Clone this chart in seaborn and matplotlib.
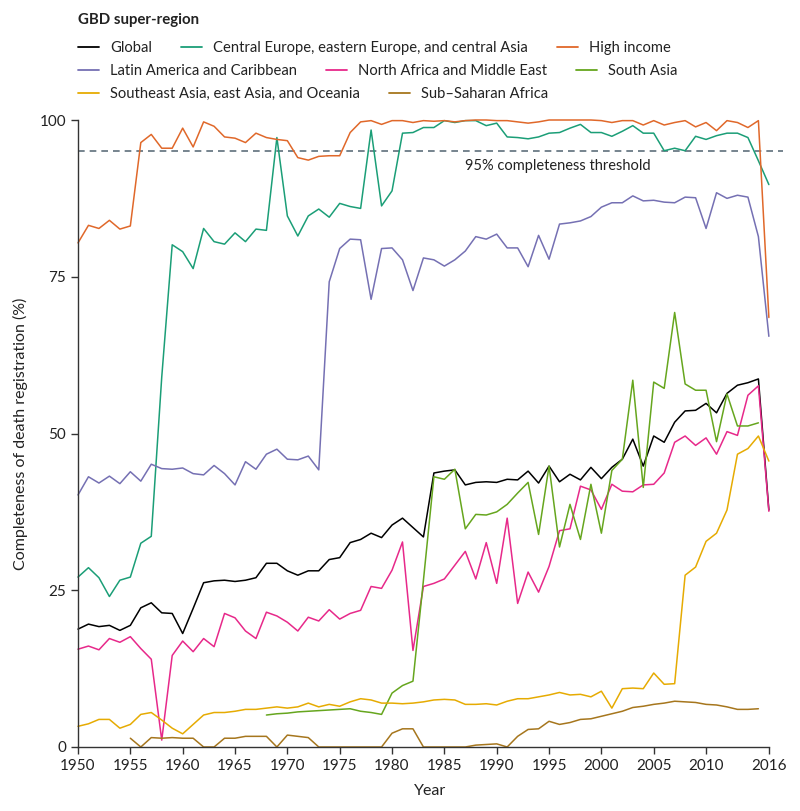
import matplotlib
matplotlib.use("Agg")
import matplotlib.pyplot as plt
from matplotlib.lines import Line2D
import numpy as np
import pandas as pd
import seaborn as sns

# values (completeness, %)
years = list(range(1950, 2017))

global_vals = [18.8, 19.6, 19.2, 19.4, 18.6, 19.4, 22.2, 23.0, 21.4, 21.3,
               18.1, 22.1, 26.2, 26.5, 26.6, 26.4, 26.6, 27.0, 29.3, 29.3,
               28.1, 27.4, 28.1, 28.1, 29.9, 30.2, 32.6, 33.1, 34.1, 33.4,
               35.4, 36.5, 35.0, 33.5, 43.7, 44.0, 44.2, 41.8, 42.2, 42.3,
               42.2, 42.7, 42.6, 44.0, 42.1, 44.8, 42.3, 43.5, 42.6, 44.6,
               42.8, 44.6, 45.9, 49.1, 44.8, 49.6, 48.6, 51.8, 53.6, 53.7,
               54.8, 53.3, 56.4, 57.7, 58.1, 58.7, 37.8]

cee_vals = [27.1, 28.6, 27.0, 24.0, 26.6, 27.1, 32.5, 33.6, 59.0, 80.1,
            79.0, 76.3, 82.7, 80.6, 80.2, 82.0, 80.6, 82.6, 82.4, 97.2,
            84.7, 81.5, 84.7, 85.8, 84.5, 86.7, 86.2, 85.9, 98.4, 86.3,
            88.7, 97.9, 98.0, 98.8, 98.8, 99.9, 99.6, 99.9, 99.9, 99.1,
            99.5, 97.3, 97.2, 97.0, 97.3, 97.9, 98.0, 98.7, 99.3, 98.0,
            98.0, 97.4, 98.2, 99.1, 97.9, 97.9, 95.1, 95.5, 95.1, 97.4,
            96.9, 97.5, 97.9, 97.9, 97.2, 93.5, 89.7]

high_income_vals = [80.4, 83.2, 82.7, 84.0, 82.6, 83.1, 96.4, 97.7, 95.5, 95.5,
                    98.7, 95.7, 99.7, 99.0, 97.3, 97.1, 96.4, 97.9, 97.2, 96.9,
                    96.7, 94.0, 93.6, 94.2, 94.3, 94.3, 98.0, 99.7, 99.9, 99.3,
                    99.9, 99.9, 99.6, 99.9, 99.8, 99.9, 99.7, 99.9, 100.0, 100.0,
                    99.9, 99.9, 99.7, 99.5, 99.7, 100.0, 100.0, 100.0, 100.0, 100.0,
                    99.9, 99.6, 99.9, 99.9, 99.2, 99.9, 99.2, 99.6, 99.9, 98.9,
                    99.6, 98.3, 99.9, 99.6, 98.8, 99.9, 68.5]

latam_vals = [40.2, 43.1, 42.1, 43.2, 42.0, 43.9, 42.4, 45.1, 44.4, 44.3,
              44.5, 43.6, 43.4, 44.9, 43.6, 41.8, 45.5, 44.3, 46.7, 47.5,
              45.9, 45.8, 46.4, 44.2, 74.2, 79.5, 81.0, 80.9, 71.4, 79.5,
              79.6, 77.7, 72.8, 78.0, 77.7, 76.7, 77.7, 79.1, 81.4, 81.0,
              81.8, 79.6, 79.6, 76.6, 81.6, 77.8, 83.4, 83.6, 83.9, 84.6,
              86.1, 86.8, 86.8, 87.9, 87.1, 87.2, 86.9, 86.8, 87.7, 87.6,
              82.7, 88.4, 87.5, 88.0, 87.7, 81.4, 65.5]

name_vals = [15.6, 16.1, 15.5, 17.3, 16.7, 17.6, 15.7, 14.0, 1.1, 14.6,
             16.9, 15.2, 17.3, 16.0, 21.3, 20.6, 18.5, 17.3, 21.5, 20.9,
             19.9, 18.5, 20.7, 20.1, 21.9, 20.4, 21.3, 21.8, 25.6, 25.3,
             28.2, 32.7, 15.4, 25.6, 26.1, 26.8, 29.0, 31.2, 26.8, 32.6,
             26.1, 36.5, 22.9, 27.9, 24.7, 28.8, 34.5, 34.8, 41.6, 41.0,
             37.9, 41.9, 40.8, 40.7, 41.8, 41.9, 43.7, 48.6, 49.6, 48.1,
             49.3, 46.7, 50.3, 49.7, 56.1, 57.6, 37.6]

south_asia_years = list(range(1968, 2016))
south_asia_vals = [5.1, 5.3, 5.4, 5.6, 5.7, 5.8, 5.9, 6.0, 6.1, 5.7, 5.5, 5.2,
                   8.6, 9.8, 10.5, 26.6, 43.1, 42.7, 44.3, 34.8, 37.1, 37.0,
                   37.5, 38.7, 40.5, 42.2, 33.9, 44.8, 31.9, 38.7, 33.1, 41.9,
                   34.1, 44.1, 45.9, 58.5, 41.4, 58.2, 57.2, 69.3, 57.9, 56.9,
                   56.9, 48.7, 56.3, 51.2, 51.2, 51.7]

se_asia_vals = [3.3, 3.7, 4.4, 4.4, 3.0, 3.6, 5.2, 5.5, 4.3, 3.0,
                2.1, 3.6, 5.1, 5.5, 5.5, 5.7, 6.0, 6.0, 6.2, 6.4,
                6.2, 6.4, 7.0, 6.4, 6.8, 6.5, 7.2, 7.7, 7.5, 7.0,
                7.0, 6.9, 7.0, 7.2, 7.5, 7.6, 7.5, 6.8, 6.8, 6.9,
                6.7, 7.3, 7.7, 7.7, 8.0, 8.3, 8.7, 8.3, 8.4, 8.0,
                8.9, 6.2, 9.3, 9.4, 9.3, 11.8, 10.0, 10.1, 27.4, 28.7,
                32.8, 34.1, 37.8, 46.7, 47.6, 49.6, 45.6]

ssa_years = list(range(1955, 2016))
ssa_vals = [1.4, 0.0, 1.5, 1.4, 1.5,
            1.4, 1.4, 0.0, 0.0, 1.4, 1.4, 1.7, 1.7, 1.7, 0.0,
            1.9, 1.7, 1.5, 0.0, 0.0, 0.0, 0.0, 0.0, 0.0, 0.0,
            2.2, 2.9, 2.9, 0.0, 0.0, 0.0, 0.0, 0.0, 0.3, 0.4,
            0.5, 0.0, 1.7, 2.8, 2.9, 4.1, 3.6, 3.9, 4.4, 4.5,
            4.9, 5.3, 5.7, 6.3, 6.5, 6.8, 7.0, 7.3, 7.2, 7.1,
            6.8, 6.7, 6.4, 6.0, 6.0, 6.1]

regions = ["Global",
           "Central Europe, eastern Europe, and central Asia",
           "High income",
           "Latin America and Caribbean",
           "North Africa and Middle East",
           "South Asia",
           "Southeast Asia, east Asia, and Oceania",
           "Sub\u2013Saharan Africa"]
colors = ["#000000", "#1b9e77", "#e0682a", "#7570b3",
          "#e7298a", "#66a61e", "#e6ab02", "#a6761d"]

series = [(years, global_vals), (years, cee_vals), (years, high_income_vals),
          (years, latam_vals), (years, name_vals),
          (south_asia_years, south_asia_vals), (years, se_asia_vals),
          (ssa_years, ssa_vals)]

frames = []
for name, (yrs, vals) in zip(regions, series):
    frames.append(pd.DataFrame({"year": yrs, "value": vals, "region": name}))
df = pd.concat(frames, ignore_index=True)

sns.set_style("ticks")
plt.rcParams["font.family"] = ["Lato", "DejaVu Sans"]
text_color = "#222222"

fig = plt.figure(figsize=(8, 8.11), dpi=100)
ax = fig.add_axes([78 / 800, 1 - 747 / 811, 705 / 800, 627 / 811])

sns.lineplot(data=df, x="year", y="value", hue="region", hue_order=regions,
             palette=dict(zip(regions, colors)), linewidth=1.1,
             errorbar=None, legend=False, ax=ax)
for line in ax.lines:
    line.set_clip_on(False)

# 95% threshold
ax.axhline(95, color="#5f6f7c", linewidth=1.2, linestyle=(0, (4, 3)), zorder=0)
ax.text(1987, 92.6, "95% completeness threshold", fontsize=10.5,
        color=text_color, ha="left", va="center")

ax.set_xlim(1950, 2017.35)
ax.set_ylim(0, 100)
ax.set_xticks(list(range(1950, 2015, 5)) + [2016])
ax.set_yticks([0, 25, 50, 75, 100])
ax.tick_params(axis="both", direction="out", length=5, width=1,
               color="#333333", labelsize=11, labelcolor=text_color)
for s in ["top", "right"]:
    ax.spines[s].set_visible(False)
ax.spines["left"].set_bounds(0, 100)
ax.spines["bottom"].set_bounds(1950, 2016)
for s in ["left", "bottom"]:
    ax.spines[s].set_color("#333333")
    ax.spines[s].set_linewidth(1)

ax.set_xlabel("Year", fontsize=11.5, color=text_color, labelpad=8)
ax.set_ylabel("Completeness of death registration (%)", fontsize=11.5,
              color=text_color, labelpad=8)

# legend, one flowing row at a time
fig.text(78 / 800, 1 - 20 / 811, "GBD super-region", fontsize=10.8,
         fontweight="bold", color=text_color, ha="left", va="center")
rows = [[0, 1, 2], [3, 4, 5], [6, 7]]
row_y = [48, 71, 94]
for idx, y in zip(rows, row_y):
    handles = [Line2D([], [], color=colors[i], linewidth=1.3) for i in idx]
    labels = [regions[i] for i in idx]
    leg = fig.legend(handles, labels, loc="center left",
                     bbox_to_anchor=(78 / 800, 1 - y / 811), ncol=len(idx),
                     frameon=False, fontsize=10.6, handlelength=1.43,
                     handletextpad=0.75, columnspacing=1.97,
                     borderpad=0, borderaxespad=0)
    for t in leg.get_texts():
        t.set_color(text_color)

fig.savefig("out.png", dpi=100)
